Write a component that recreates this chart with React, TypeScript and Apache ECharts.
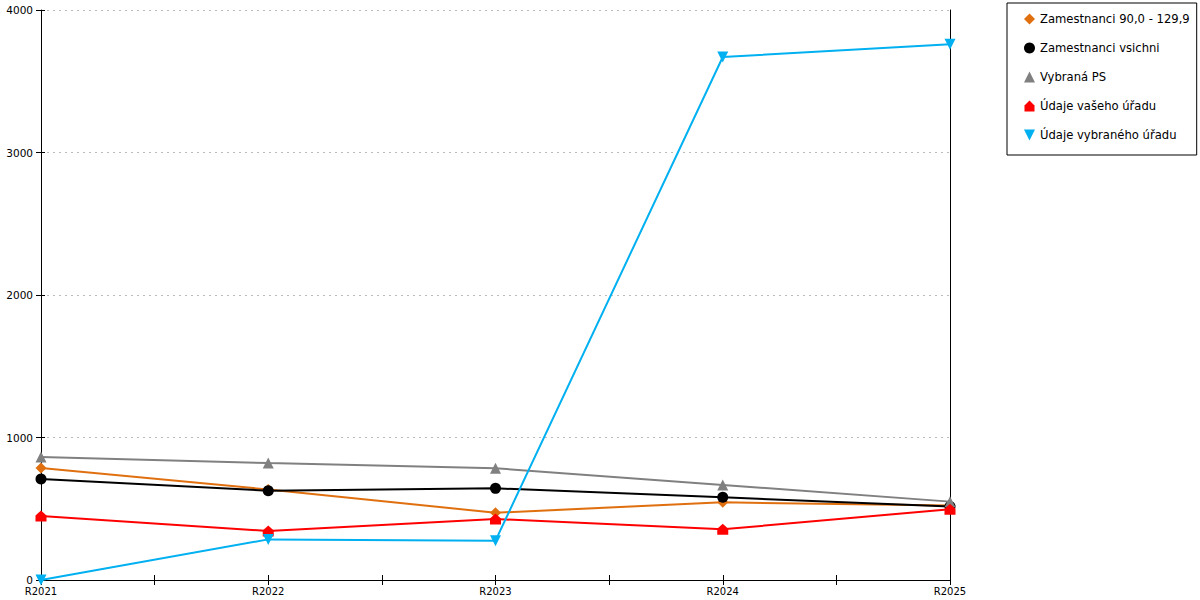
import React, { useEffect, useRef } from "react";
import * as echarts from "echarts";

const categories = ["R2021", "R2022", "R2023", "R2024", "R2025"];
const seriesNames = [
  "Zamestnanci 90,0 - 129,9",
  "Zamestnanci vsichni",
  "Vybraná PS",
  "Údaje vašeho úřadu",
  "Údaje vybraného úřadu",
];
const orangeValues = [786, 635, 472, 545, 522];
const blackValues = [709, 627, 643, 580, 515];
const grayValues = [863, 821, 784, 667, 550];
const redValues = [449, 344, 428, 356, 496];
const blueValues = [0, 285, 276, 3670, 3760];
const yTicks = [0, 1000, 2000, 3000, 4000];

const HOUSE = "path://M5,0 L10,5 L10,11 L0,11 L0,5 Z";
const DOWN_TRI = "path://M0,0 L10,0 L5,10 Z";

const FONT = "DejaVu Sans";

export default function App() {
  const ref = useRef<HTMLDivElement>(null);
  useEffect(() => {
    document.body.style.margin = "0";
    const chart = echarts.init(ref.current!, undefined, { renderer: "svg" });
    const toPairs = (vals: number[]) => vals.map((v, i) => [i, v]);
    const styles = [
      { color: "#E0700F", symbol: "diamond", size: 11, data: orangeValues },
      { color: "#000000", symbol: "circle", size: 11, data: blackValues },
      { color: "#808080", symbol: "triangle", size: 11, data: grayValues },
      { color: "#FF0000", symbol: HOUSE, size: 11, data: redValues },
      { color: "#00B0F0", symbol: DOWN_TRI, size: 11, data: blueValues },
    ];
    const yMax = yTicks[yTicks.length - 1];
    const xCommon = {
      type: "value" as const,
      min: 0,
      max: categories.length - 1,
      interval: 0.5,
      splitLine: { show: false },
    };
    chart.setOption({
      animation: false,
      grid: { left: 41, right: 250, top: 10, bottom: 20, containLabel: false },
      legend: {
        orient: "vertical",
        left: 1007,
        top: 3,
        borderColor: "#000",
        borderWidth: 1,
        padding: [9, 7, 13, 17],
        itemWidth: 11,
        itemHeight: 11,
        itemGap: 15,
        textStyle: { fontFamily: FONT, fontSize: 11.6, color: "#000", lineHeight: 14 },
        data: seriesNames.map((n, i) => ({ name: n, icon: styles[i].symbol })),
      },
      xAxis: [
        {
          ...xCommon,
          position: "bottom",
          axisLine: { show: true, lineStyle: { color: "#000", width: 1 } },
          axisTick: { show: true, length: 5, lineStyle: { color: "#000" } },
          axisLabel: {
            show: true,
            margin: 6,
            fontFamily: FONT,
            fontSize: 10,
            color: "#000",
            showMinLabel: true,
            showMaxLabel: true,
            formatter: (v: number) => (Number.isInteger(v) ? categories[v] : ""),
          },
        },
        {
          ...xCommon,
          position: "bottom",
          axisLine: { show: false },
          axisTick: { show: true, inside: true, length: 5, lineStyle: { color: "#000" } },
          axisLabel: { show: false },
        },
      ],
      yAxis: [
        {
          type: "value",
          min: 0,
          max: yMax,
          interval: 1000,
          position: "left",
          axisLine: { show: true, lineStyle: { color: "#000", width: 1 } },
          axisTick: { show: true, length: 5, lineStyle: { color: "#000" } },
          axisLabel: {
            margin: 8,
            fontFamily: FONT,
            fontSize: 10.5,
            color: "#000",
            formatter: (v: number) => String(v),
          },
          splitLine: { show: true, lineStyle: { color: "#BBBBBB", type: [2, 4], width: 1 } },
        },
        {
          type: "value",
          min: 0,
          max: yMax,
          interval: 1000,
          position: "left",
          axisLine: { show: false },
          axisTick: { show: true, inside: true, length: 4, lineStyle: { color: "#000" } },
          axisLabel: { show: false },
          splitLine: { show: false },
        },
        {
          type: "value",
          min: 0,
          max: yMax,
          interval: 1000,
          position: "right",
          axisLine: { show: true, lineStyle: { color: "#000", width: 1 } },
          axisTick: { show: false },
          axisLabel: { show: false },
          splitLine: { show: false },
        },
      ],
      series: styles.map((s, i) => ({
        name: seriesNames[i],
        type: "line",
        xAxisIndex: 0,
        yAxisIndex: 0,
        data: toPairs(s.data),
        symbol: s.symbol,
        symbolSize: s.size,
        showAllSymbol: true,
        lineStyle: { color: s.color, width: 2 },
        itemStyle: { color: s.color, borderWidth: 0 },
        emphasis: { disabled: true },
        z: 2 + i,
      })),
    });
    return () => chart.dispose();
  }, []);
  return <div ref={ref} style={{ width: 1200, height: 600 }} />;
}
